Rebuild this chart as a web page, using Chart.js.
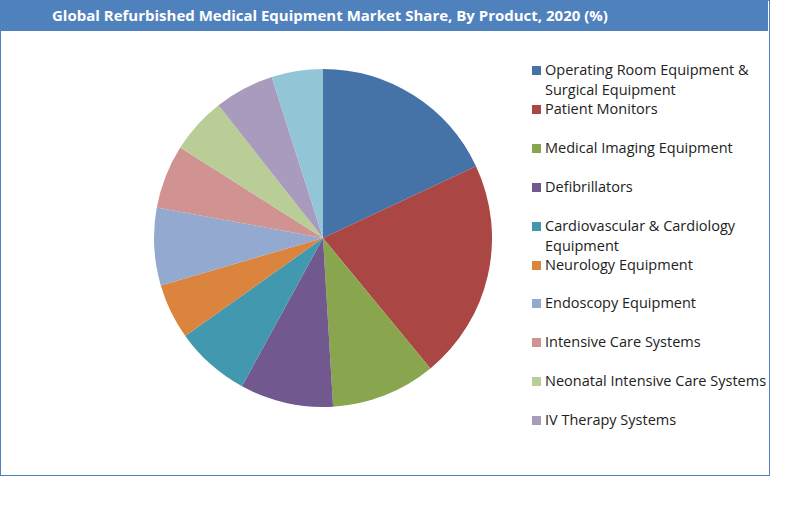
<!DOCTYPE html>
<html><head><meta charset="utf-8">
<script src="https://cdn.jsdelivr.net/npm/chart.js@4"></script>
<style>
body{margin:0;background:#fff;font-family:"Open Sans","DejaVu Sans",sans-serif;}
#frame{position:absolute;left:0;top:0;width:768px;height:474px;border:1px solid #4F81BD;}
#title{position:absolute;left:0;top:0;width:768px;height:31px;background:#4F81BD;color:#fff;font-weight:bold;font-size:15px;line-height:30px;padding-left:52px;box-sizing:border-box;}
#cw{position:absolute;left:154px;top:69px;width:338px;height:338px;}
#legend{position:absolute;left:532px;top:60px;font-size:14.5px;color:#222;}
.item{position:absolute;left:0;width:240px;line-height:20px;}
.sw{position:absolute;left:0;top:6px;width:9px;height:9px;}
.tx{position:absolute;left:13px;top:0;white-space:nowrap;}
</style></head><body>
<div id="frame"></div>
<div id="title">Global Refurbished Medical Equipment Market Share, By Product, 2020 (%)</div>
<div id="cw"><canvas id="c"></canvas></div>
<div id="legend"></div>
<script>
const categories=[["Operating Room Equipment &","Surgical Equipment"],["Patient Monitors"],["Medical Imaging Equipment"],["Defibrillators"],["Cardiovascular & Cardiology","Equipment"],["Neurology Equipment"],["Endoscopy Equipment"],["Intensive Care Systems"],["Neonatal Intensive Care Systems"],["IV Therapy Systems"],["Others"]];
const values=[18,21,10,8.9,7.2,5.3,7.4,6.1,5.4,5.7,4.9];
const colors=["#4572A7","#AA4643","#89A54E","#71588F","#4198AF","#DB843D","#93A9CF","#D19392","#B9CD96","#A99BBD","#92C5D6"];
const legendCount=10;
new Chart(document.getElementById('c'),{type:'pie',
data:{labels:categories.map(c=>c.join(' ')),datasets:[{data:values,backgroundColor:colors,borderWidth:0}]},
options:{responsive:true,maintainAspectRatio:false,animation:false,layout:{padding:0},
plugins:{legend:{display:false},tooltip:{enabled:false}}}});
const lg=document.getElementById('legend');
for(let i=0;i<legendCount;i++){
 const d=document.createElement('div');d.className='item';d.style.top=(i*38.9)+'px';
 d.innerHTML='<div class="sw" style="background:'+colors[i]+'"></div><div class="tx">'+categories[i].map(s=>s.replace(/&/g,'&amp;')).join('<br>')+'</div>';
 lg.appendChild(d);
}
</script></body></html>
